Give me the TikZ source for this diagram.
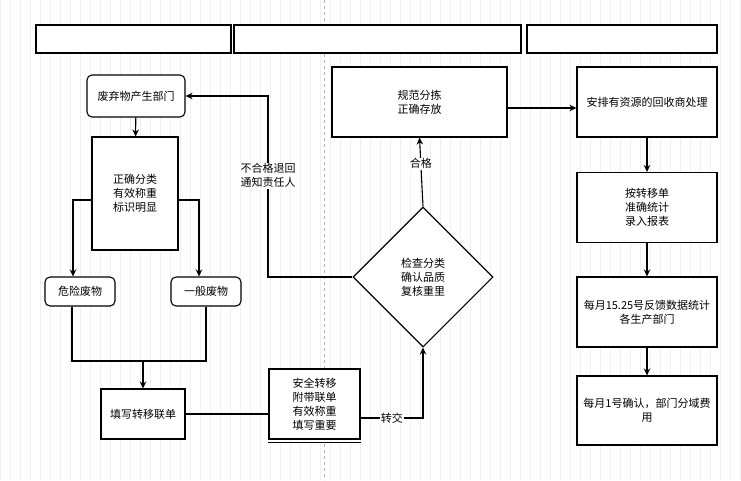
\documentclass[tikz,border=0pt]{standalone}
\usepackage{fontspec}
\setmainfont{Noto Sans CJK SC}
\usetikzlibrary{shapes.geometric,arrows.meta}

\begin{document}
\begin{tikzpicture}[x=1pt,y=-1pt,line width=1.1pt,font=\fontsize{11}{14}\selectfont,
  box/.style={draw,fill=white,align=center,inner sep=0pt},
  rbox/.style={box,rounded corners=5pt},
  arr/.style={-{Stealth[length=7pt,width=6.5pt]}},
  lbl/.style={fill=white,inner sep=1pt,align=center}]
\useasboundingbox (0,0) rectangle (741,480);
\fill[white] (0,0) rectangle (741,480);
\draw[gray!12,line width=0.4pt] (0,0) grid[step=10] (741,480);
\draw[gray!60,dashed,line width=0.6pt] (324,0) -- (324,480);
% header
\node[box,minimum width=195pt,minimum height=28pt] (h1) at (133.5,39) {};
\node[box,minimum width=287pt,minimum height=28pt] (h2) at (377.5,39) {};
\node[box,minimum width=190pt,minimum height=28pt] (h3) at (622,39) {};
% left
\node[rbox,minimum width=98pt,minimum height=42pt] (src) at (136,96) {废弃物产生部门};
\node[box,minimum width=86pt,minimum height=113pt] (sort) at (135,193.5) {正确分类\\有效称重\\标识明显};
\node[rbox,minimum width=70pt,minimum height=29pt] (haz) at (80,291.5) {危险废物};
\node[rbox,minimum width=70pt,minimum height=29pt] (gen) at (206,291.5) {一般废物};
\node[box,minimum width=84pt,minimum height=50pt] (fill) at (143,414) {填写转移联单};
\fill[white] (269,369) rectangle (360,442);
\node[box,minimum width=91pt,minimum height=70pt] (safe) at (314.5,404) {安全转移\\附带联单\\有效称重\\填写重要};
\draw ([yshift=-3pt]safe.south west) -- ([yshift=-3pt]safe.south east);
% middle
\node[draw,fill=white,shape=diamond,aspect=1,minimum width=140pt,minimum height=140pt,inner sep=0pt,align=center] (chk) at (423,277) {检查分类\\确认品质\\复核重里};
\node[box,minimum width=175pt,minimum height=70pt] (store) at (419.5,102) {规范分拣\\正确存放};
% right
\node[box,minimum width=140pt,minimum height=70pt] (rec) at (647,102) {安排有资源的回收商处理};
\node[box,minimum width=140pt,minimum height=70pt] (stat) at (647,207.5) {按转移单\\准确统计\\录入报表};
\node[box,minimum width=140pt,minimum height=70pt] (feed) at (647,312) {每月15.25号反馈数据统计\\各生产部门};
\node[box,minimum width=140pt,minimum height=69pt] (conf) at (647,410.5) {每月1号确认，部门分域费\\用};
\coordinate (mrg) at (143,361);
\coordinate (back) at (268,96);
% connectors
\draw[arr] (src) -- (sort);
\draw[arr] ([yshift=-6.5pt]sort.west) -| ([xshift=-7pt]haz.north);
\draw[arr] ([yshift=-6.5pt]sort.east) -| ([xshift=-7pt]gen.north);
\draw ([xshift=-8pt]haz.south) |- (mrg) -| (gen.south);
\draw[arr] (mrg) -- (fill);
\draw (fill.east) -- (fill.east -| safe.west);
\draw[arr] ([yshift=-14pt]safe.east) -| node[lbl,pos=0.25] {转交} (chk.south);
\draw[arr] (chk.west) -| node[lbl,pos=0.78] {不合格退回\\通知责任人} (back) -- (src.east);
\draw[arr] (chk.north) -- node[lbl,pos=0.62] {合格} (store.south);
\draw[arr] ([yshift=-6pt]store.east) -- ([yshift=-6pt]rec.west);
\draw[arr] (rec) -- (stat);
\draw[arr] (stat) -- (feed);
\draw[arr] (feed) -- (conf);
\end{tikzpicture}
\end{document}
